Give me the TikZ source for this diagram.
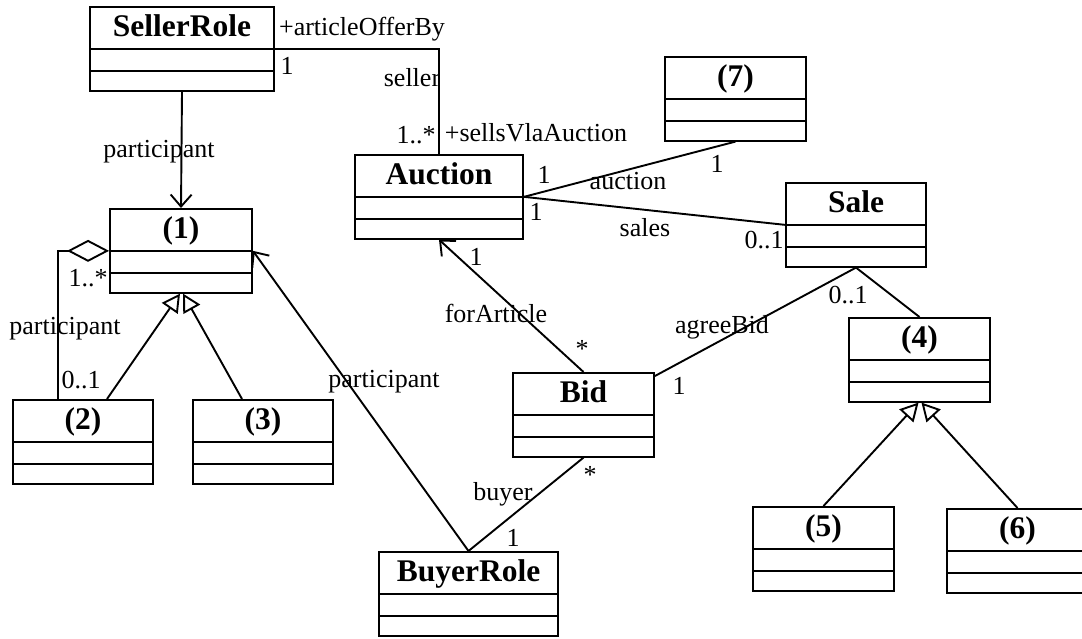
\documentclass[tikz,border=0pt]{standalone}
\usepackage{fontspec}
\setmainfont{Liberation Serif}
\usetikzlibrary{shapes.multipart,arrows.meta}

\newcommand{\lblfont}{\fontsize{26}{28}\selectfont}
\newcommand{\clsfont}{\fontsize{31.5}{34}\selectfont\bfseries}
\newcommand{\clsname}[1]{\rule[-11pt]{0pt}{40pt}#1\nodepart{two}\rule{0pt}{20.5pt}\nodepart{three}\rule{0pt}{17.5pt}}

\tikzset{
  cls/.style={rectangle split, rectangle split parts=3, draw, inner sep=0pt,
    text width=#1, align=center, font=\clsfont, anchor=north},
  lbl/.style={font=\lblfont, inner sep=0pt},
  gen/.style={-{Triangle[open,length=18pt,width=19pt]}},
  agg/.style={{Diamond[open,length=42pt,width=22pt]}-},
}

\begin{document}
\begin{tikzpicture}[x=1pt, y=-1pt, line width=1.9pt]
        \useasboundingbox (0,0) rectangle (1082,639);

        % classes
        \node[cls=184pt] (seller)  at (182,6)      {\clsname{SellerRole}};
        \node[cls=168pt] (auction) at (439,154)    {\clsname{Auction}};
        \node[cls=141pt] (seven)   at (735.5,56)   {\clsname{(7)}};
        \node[cls=140pt] (sale)    at (856,182)    {\clsname{Sale}};
        \node[cls=142pt] (one)     at (181,208)    {\clsname{(1)}};
        \node[cls=140pt] (two)     at (83,399)     {\clsname{(2)}};
        \node[cls=140pt] (three)   at (263,399)    {\clsname{(3)}};
        \node[cls=141pt] (bid)     at (583.5,372)  {\clsname{Bid}};
        \node[cls=141pt] (four)    at (919.5,317)  {\clsname{(4)}};
        \node[cls=141pt] (five)    at (823.5,506)  {\clsname{(5)}};
        \node[cls=141pt] (six)     at (1017.5,508) {\clsname{(6)}};
        \node[cls=179pt] (buyer)   at (468.5,551)  {\clsname{BuyerRole}};

        % associations
        \begin{scope}[>={Straight Barb[length=12pt,width=21pt]}]
        \draw (seller.text split east) -| (auction.north);
        \path [->] (seller.south) edge (one.north);
        \path [->] (buyer.north) edge (one.text split east);
        \path [->] (bid.north) edge (auction.south);
        \path (buyer.north) edge (bid.south);
        \path ([yshift=-4pt]bid.north east) edge (sale.south);
        \path (sale.south) edge (four.north);
        \path (auction.text split east) edge (seven.south);
        \path (auction.text split east) edge (sale.text split west);
        \draw [agg] (one.text split west) -| ([xshift=-25pt]two.north);
        \end{scope}

        % generalizations
        \draw [gen] ([xshift=24pt]two.north) -- ([xshift=-1pt]one.south);
        \draw [gen] ([xshift=-21pt]three.north) -- ([xshift=2pt]one.south);
        \draw [gen] (five.north) -- ([xshift=-1pt]four.south);
        \draw [gen] (six.north) -- ([xshift=2pt]four.south);

        % role names and multiplicities
        \begin{scope}[every node/.style={lbl}]
        \node (artOffer)  at (362,29)  {+articleOfferBy};
        \node (sellOne)   at (287,66)  {1};
        \node (sellerLbl) at (412,78)  {seller};
        \node (sellMany)  at (416,135) {1..*};
        \node (sellsVia)  at (536,133) {+sellsVlaAuction};
        \node (partTop)   at (159,152) {participant};
        \node (oneMany)   at (88,278)  {1..*};
        \node (partLeft)  at (65,329)  {participant};
        \node (twoOpt)    at (81,380)  {0..1};
        \node (partMid)   at (384,382) {participant};
        \node (aucOneA)   at (544,175) {1};
        \node (aucLbl)    at (628,181) {auction};
        \node (sevenOne)  at (717,164) {1};
        \node (aucOneB)   at (536,212) {1};
        \node (salesLbl)  at (645,228) {sales};
        \node (saleOpt)   at (764,240) {0..1};
        \node (aucOneC)   at (476,257) {1};
        \node (forArt)    at (496,313) {forArticle};
        \node (bidMany)   at (582,349) {*};
        \node (agreeLbl)  at (722,327) {agreeBid};
        \node (bidOne)    at (679,386) {1};
        \node (saleOpt2)  at (848,295) {0..1};
        \node (bidMany2)  at (590,475) {*};
        \node (buyerLbl)  at (503,494) {buyer};
        \node (buyerOne)  at (513,538) {1};
        \end{scope}
    \end{tikzpicture}
\end{document}
